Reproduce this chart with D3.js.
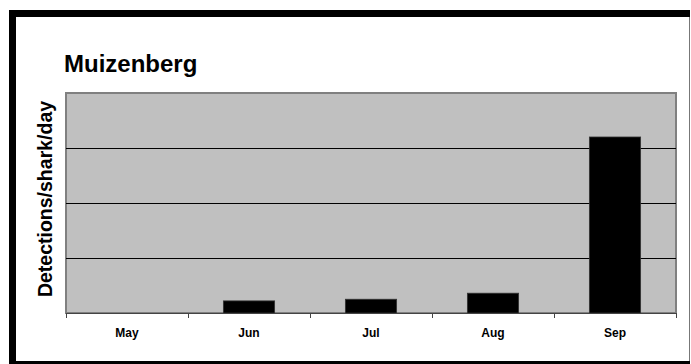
<!DOCTYPE html>
<html>
<head>
<meta charset="utf-8">
<script src="https://cdn.jsdelivr.net/npm/d3@7"></script>
<style>
  html, body { margin: 0; padding: 0; background: #fff; }
  svg { display: block; }
  text { font-family: Arial, "Liberation Sans", Helvetica, sans-serif; font-weight: bold; fill: #000; }
</style>
</head>
<body>
<script>
// Monthly detection rate at Muizenberg
const months = ["May", "Jun", "Jul", "Aug", "Sep"];
const detections = [0, 0.22, 0.25, 0.36, 3.2];
const gridValues = [0, 1, 2, 3, 4];

const W = 691, H = 364;
const svg = d3.select("body").append("svg").attr("width", W).attr("height", H);

// Framed panel
svg.append("rect").attr("x", 9).attr("y", 10).attr("width", 681).attr("height", 354).attr("fill", "#000");
svg.append("rect").attr("x", 16).attr("y", 17).attr("width", 673).attr("height", 344).attr("fill", "#fff");
svg.append("line").attr("x1", 689.5).attr("x2", 689.5).attr("y1", 17).attr("y2", 361)
  .attr("stroke", "#777").attr("stroke-width", 1);

const plot = { left: 66, right: 676, top: 93, bottom: 313 };

const x = d3.scaleBand().domain(months).range([plot.left, plot.right]).paddingInner(0.58).paddingOuter(0.29);
const xTicks = d3.scaleBand().domain(months).range([plot.left, plot.right]);
const y = d3.scaleLinear().domain([0, 4]).range([plot.bottom, plot.top]);

// Plot area
svg.append("rect")
  .attr("x", plot.left).attr("y", plot.top)
  .attr("width", plot.right - plot.left).attr("height", plot.bottom - plot.top)
  .attr("fill", "#c0c0c0").attr("stroke", "#808080").attr("stroke-width", 2);

// Horizontal gridlines
svg.append("g").selectAll("line")
  .data(gridValues.filter(v => v > 0 && v < 4))
  .join("line")
  .attr("x1", plot.left).attr("x2", plot.right)
  .attr("y1", d => Math.round(y(d)) + 0.5).attr("y2", d => Math.round(y(d)) + 0.5)
  .attr("stroke", "#000").attr("stroke-width", 1);

// Bars
svg.append("g").selectAll("rect")
  .data(months.map((m, i) => ({ m, v: detections[i] })))
  .join("rect")
  .attr("x", d => x(d.m))
  .attr("width", x.bandwidth())
  .attr("y", d => y(d.v))
  .attr("height", d => y(0) - y(d.v))
  .attr("fill", "#000")
  .attr("stroke", "#333").attr("stroke-width", 0.8);

// Category axis with boundary ticks
const axis = svg.append("g").attr("transform", `translate(0,${plot.bottom})`);
axis.append("line").attr("x1", plot.left).attr("x2", plot.right).attr("y1", 0.5).attr("y2", 0.5)
  .attr("stroke", "#444").attr("stroke-width", 1.2);
const boundaries = months.map(m => xTicks(m)).concat([xTicks(months[months.length - 1]) + xTicks.bandwidth()]);
axis.selectAll("line.tick").data(boundaries).join("line")
  .attr("class", "tick")
  .attr("x1", d => Math.round(d) + 0.5).attr("x2", d => Math.round(d) + 0.5)
  .attr("y1", 0).attr("y2", 5)
  .attr("stroke", "#444").attr("stroke-width", 1);
axis.selectAll("text").data(months).join("text")
  .attr("x", d => xTicks(d) + xTicks.bandwidth() / 2)
  .attr("y", 24)
  .attr("text-anchor", "middle")
  .attr("font-size", 12)
  .text(d => d);

// Title
svg.append("text").attr("x", 64).attr("y", 72).attr("font-size", 24).text("Muizenberg");

// Y-axis title
svg.append("text")
  .attr("transform", "translate(52,199) rotate(-90)")
  .attr("text-anchor", "middle")
  .attr("font-size", 19.5)
  .text("Detections/shark/day");
</script>
</body>
</html>
